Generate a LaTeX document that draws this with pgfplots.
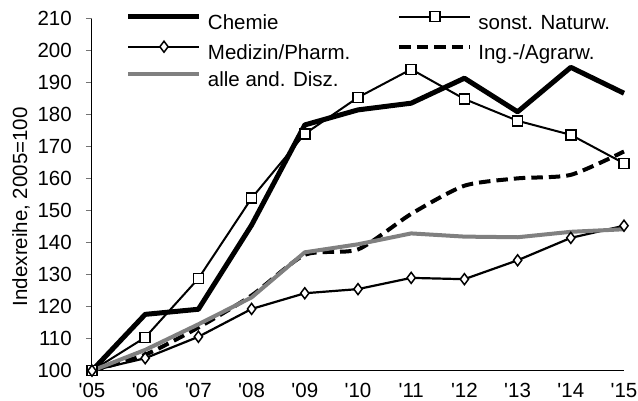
\documentclass[border=0pt]{standalone}
\usepackage{fontspec}
\setmainfont{Liberation Sans}
\usepackage{pgfplots}
\pgfplotsset{compat=1.18}
\definecolor{grayline}{RGB}{128,128,128}
\begin{document}
\begin{tikzpicture}
\path (-92pt,-30.3pt) rectangle (546pt,370.7pt);
\begin{axis}[
  scale only axis, width=532pt, height=352pt,
  at={(0pt,0pt)}, anchor=south west,
  xmin=0, xmax=10, ymin=100, ymax=210,
  axis lines*=left,
  axis line style={line width=1pt, black},
  xtick={0,1,2,3,4,5,6,7,8,9,10},
  xticklabels={\textquotesingle05,\textquotesingle06,\textquotesingle07,\textquotesingle08,\textquotesingle09,\textquotesingle10,\textquotesingle11,\textquotesingle12,\textquotesingle13,\textquotesingle14,\textquotesingle15},
  ytick={100,110,...,210},
  tick align=outside,
  major tick length=6pt,
  x tick style={draw=none},
  y tick style={line width=0.8pt, black!55},
  tick label style={font=\fontsize{20.5}{24}\selectfont},
  /pgf/number format/assume math mode=true,
  yticklabel style={inner sep=0pt, anchor=east, xshift=-14pt},
  xticklabel style={inner sep=0pt, anchor=north, yshift=-6.5pt, overlay},
  ylabel={Indexreihe, 2005=100},
  ylabel style={at={(axis description cs:-0.1335,0.466)}, anchor=center, font=\fontsize{20.5}{24}\selectfont, inner sep=0pt},
  title={Fächergruppe},
  title style={at={(axis description cs:0.327,1.056)}, anchor=base west, font=\bfseries\fontsize{24}{28}\selectfont, inner sep=0pt, overlay},
  legend columns=2,
  legend cell align=left,
  legend style={at={(axis description cs:0.0639,1.0199)}, anchor=north west, draw=none, fill=none, inner sep=0pt, outer sep=0pt,
    font=\fontsize{20.5}{24}\selectfont,
    nodes={inner sep=0pt, text height=15pt, text depth=5pt},
    row sep=7pt,
    /tikz/every odd column/.append style={column sep=6pt},
    /tikz/every even column/.append style={column sep=47pt}},
  legend image code/.code={\draw[mark repeat=2,mark phase=2,yshift=7.5pt,#1] plot coordinates {(0pt,0pt) (35.5pt,0pt) (71pt,0pt)};},
  clip=false,
]
\addplot[black, line width=5pt, line join=round] coordinates {
 (0,100) (1,117.6) (2,119.2) (3,145.5) (4,176.8) (5,181.5) (6,183.6) (7,191.4) (8,180.9) (9,194.8) (10,186.7)};
\addlegendentry{Chemie}
\addplot[black, line width=2pt, mark=square*, mark size=5pt, mark options={fill=white, line width=1.5pt, solid}] coordinates {
 (0,100) (1,110.4) (2,128.8) (3,153.9) (4,174.0) (5,185.4) (6,194.2) (7,184.9) (8,178.1) (9,173.7) (10,164.8)};
\addlegendentry{sonst. Naturw.}
\addplot[black, line width=2.2pt, mark=diamond*, mark size=5.5pt, mark options={fill=white, line width=1.5pt, solid}] coordinates {
 (0,100) (1,103.9) (2,110.6) (3,119.3) (4,124.2) (5,125.5) (6,129.0) (7,128.6) (8,134.5) (9,141.5) (10,145.3)};
\addlegendentry{Medizin/Pharm.}
\addplot[black, line width=4pt, dash pattern=on 11.5pt off 6pt, smooth, tension=0.4] coordinates {
 (0,100) (1,105) (2,113.5) (3,123.5) (4,136.2) (5,137.9) (6,149.0) (7,157.8) (8,160.1) (9,161.2) (10,168.5)};
\addlegendentry{Ing.-/Agrarw.}
\addplot[grayline, line width=4pt, line join=round] coordinates {
 (0,100) (1,106.5) (2,114.5) (3,122.9) (4,137.0) (5,139.5) (6,142.9) (7,141.9) (8,141.7) (9,143.4) (10,144.2)};
\addlegendentry{alle and. Disz.}
\end{axis}
\end{tikzpicture}
\end{document}
